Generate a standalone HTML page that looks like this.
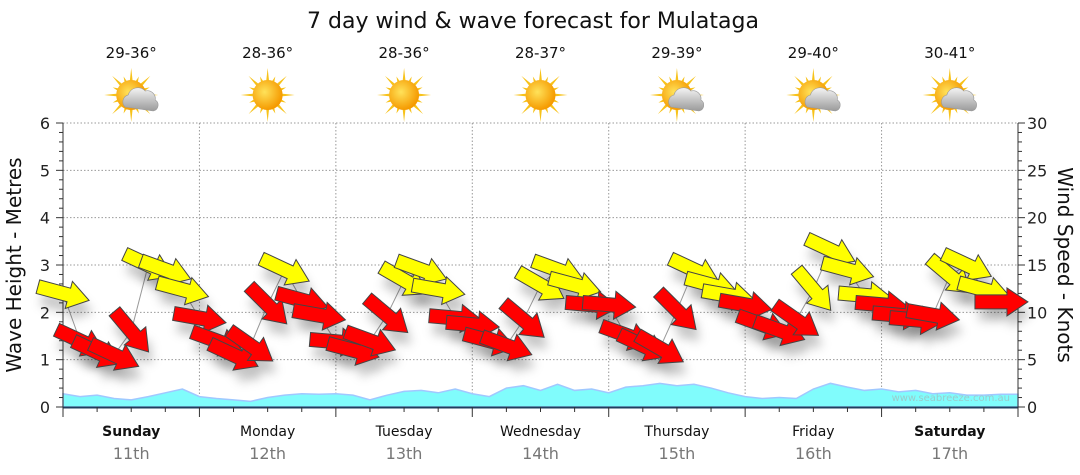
<!DOCTYPE html>
<html><head><meta charset="utf-8"><style>
body{margin:0;background:#fff;}
svg{display:block;font-family:"DejaVu Sans","Liberation Sans",sans-serif;}
</style></head><body>
<svg id="c" width="1080" height="475">
<defs>
<radialGradient id="sun" cx="40%" cy="40%" r="60%"><stop offset="0" stop-color="#ffe25a"/><stop offset="1" stop-color="#f59a00"/></radialGradient>
<linearGradient id="cloud" x1="0" y1="0" x2="0" y2="1"><stop offset="0" stop-color="#f4f4f4"/><stop offset="1" stop-color="#9a9a9a"/></linearGradient>
<filter id="sh" x="-50%" y="-50%" width="200%" height="200%"><feGaussianBlur stdDeviation="5"/></filter>
</defs>
<text x="533" y="28" text-anchor="middle" font-size="22" fill="#111">7 day wind &amp; wave forecast for Mulataga</text>
<g id="grid"></g><g id="waves"></g><g id="axes"></g><g id="top"></g><g id="wind"></g>
<text x="1010" y="401" text-anchor="end" font-size="10" fill="#9cc">www.seabreeze.com.au</text>
<text transform="translate(21,265) rotate(-90)" text-anchor="middle" font-size="20" fill="#111">Wave Height - Metres</text>
<text transform="translate(1058,265) rotate(90)" text-anchor="middle" font-size="20" fill="#111">Wind Speed - Knots</text>
</svg>
<script>
const days=["Sunday","Monday","Tuesday","Wednesday","Thursday","Friday","Saturday"];
const dates=["11th","12th","13th","14th","15th","16th","17th"];
const boldDays=[true,false,false,false,false,false,true];
const temps=["29-36°","28-36°","28-36°","28-37°","29-39°","29-40°","30-41°"];
const cloudy=[true,false,false,false,true,true,true];
const waveTicks=[0,1,2,3,4,5,6];
const windTicks=[0,5,10,15,20,25,30];
const windSpeed=[12,7,5.8,5.5,8,15,14.5,12.4, 9.4,7,5.5,6.5,10.8,14.5,11.3,9.7, 6.9,6,7,9.7,13.4,14.5,12.4,9.4, 8.7,7,6.5,9.2,12.9,14.5,12.9,10.8, 10.8,7.6,6.5,6.2,10.2,14.5,12.9,11.8, 10.8,8.7,8.1,9.2,12.4,16.6,14.5,11.8, 10.8,9.7,9.2,9.7,13.9,15,12.4,11.1];
const windDir=[15,25,25,25,50,25,20,15, 10,20,25,35,45,25,15,10, 5,15,20,40,30,20,10,5, 5,15,20,40,30,20,15,5, 5,20,25,30,45,25,15,10, 10,20,20,35,50,25,15,5, 5,5,5,10,40,25,15,0];
const waveH=[0.28,0.22,0.25,0.18,0.15,0.22,0.3,0.38, 0.22,0.18,0.15,0.12,0.2,0.25,0.28,0.27, 0.28,0.25,0.15,0.25,0.33,0.35,0.3,0.38, 0.28,0.22,0.4,0.45,0.35,0.48,0.35,0.38, 0.3,0.42,0.45,0.5,0.45,0.48,0.4,0.3, 0.22,0.18,0.2,0.18,0.38,0.5,0.42,0.35, 0.38,0.32,0.35,0.28,0.3,0.25,0.25,0.27];

const X0=63,X1=1018,Y0=407,Y1=123,N=56;
const xAt=i=>X0+(X1-X0)*i/N;
const yW=v=>Y0-(Y0-Y1)*v/6;
const yK=v=>Y0-(Y0-Y1)*v/30;
const ns="http://www.w3.org/2000/svg";
function mk(t,a,p){const e=document.createElementNS(ns,t);for(const k in a)e.setAttribute(k,a[k]);p.appendChild(e);return e;}
const grid=document.getElementById('grid'),axes=document.getElementById('axes'),top_=document.getElementById('top'),wv=document.getElementById('waves'),wd=document.getElementById('wind');
waveTicks.forEach(v=>{
 if(v>0){const l=mk('line',{x1:X0,x2:X1,y1:yW(v),y2:yW(v),stroke:'#999','stroke-dasharray':'1.5,2'},grid);
 
 }
 const t=mk('text',{x:50,y:yW(v)+6,'text-anchor':'end','font-size':16,fill:'#222'},axes);t.textContent=v;
 
 
});
windTicks.forEach(v=>{
 const t=mk('text',{x:1027,y:yK(v)+6,'font-size':16,fill:'#222'},axes);t.textContent=v;
 
 
});
for(let k=0;k<=30;k++){const y=yW(k/5);mk('line',{x1:X0-(k%5?4:7),x2:X0,y1:y,y2:y,stroke:'#333'},axes);
 const y2=yK(k);mk('line',{x1:X1,x2:X1+(k%5?4:7),y1:y2,y2:y2,stroke:'#333'},axes);}
mk('line',{x1:X0,x2:X0,y1:Y1,y2:Y0,stroke:'#333'},axes);
mk('line',{x1:X1,x2:X1,y1:Y1,y2:Y0,stroke:'#333'},axes);
mk('line',{x1:X0,x2:X1,y1:Y0+0.5,y2:Y0+0.5,stroke:'#1f3f5f','stroke-width':2},axes);
const dw=(X1-X0)/7;
for(let k=0;k<=28;k++){const x=X0+dw*k/4;mk('line',{x1:x,x2:x,y1:Y0,y2:Y0+(k%4?5:10),stroke:'#333'},axes);}
days.forEach((d,i)=>{
 const cx=X0+dw*(i+0.5);
 if(i>0){const l=mk('line',{x1:X0+dw*i,x2:X0+dw*i,y1:Y1,y2:Y0,stroke:'#999','stroke-dasharray':'1.5,2'},grid);
 
 }
 const t=mk('text',{x:cx,y:436,'text-anchor':'middle','font-size':14,fill:'#111','font-weight':boldDays[i]?'bold':'normal'},axes);t.textContent=d;
 
 
 const t2=mk('text',{x:cx,y:459,'text-anchor':'middle','font-size':16,fill:'#777'},axes);t2.textContent=dates[i];
 
 
 const t3=mk('text',{x:cx,y:58,'text-anchor':'middle','font-size':15,fill:'#111'},top_);t3.textContent=temps[i];
 
 
 const g=mk('g',{transform:`translate(${cx},95)`},top_);
 
 
 for(let r=0;r<16;r++){const a=r*Math.PI/8,L=r%2?20:27;mk('polygon',{points:`${Math.cos(a-0.12)*13},${Math.sin(a-0.12)*13} ${Math.cos(a)*L},${Math.sin(a)*L} ${Math.cos(a+0.12)*13},${Math.sin(a+0.12)*13}`,fill:'#f7c21a'},g);}
 mk('circle',{r:15,fill:'url(#sun)'},g);
 if(cloudy[i]){mk('path',{d:'M-6,12 a7,7 0 0 1 3,-12 a10,10 0 0 1 17,-4 a8,8 0 0 1 10,9 a6,6 0 0 1 -2,11 z',fill:'url(#cloud)',stroke:'#999','stroke-width':0.6},g);}
});
let d=`M${X0},${Y0}`;waveH.forEach((v,i)=>{d+=` L${xAt(i)},${yW(v)}`;});d+=` L${X1},${yW(waveH[N-1])} L${X1},${Y0} Z`;
const wa=mk('path',{d,fill:'#80fcfc',stroke:'#a0c8ff','stroke-width':1.5},wv);


let ld='';windSpeed.forEach((v,i)=>{ld+=(i?' L':'M')+xAt(i)+','+yK(v);});
mk('path',{d:ld,fill:'none',stroke:'#999','stroke-width':1},wd);
const arrow='-26,-7 6,-7 6,-14 27,0 6,14 6,7 -26,7';
windSpeed.forEach((v,i)=>{
 const x=xAt(i),y=yK(v);
 mk('polygon',{points:arrow,transform:`translate(${x+4},${y+12}) rotate(${windDir[i]})`,fill:'rgba(0,0,0,0.22)',filter:'url(#sh)'},wd);
});
windSpeed.forEach((v,i)=>{
 const x=xAt(i),y=yK(v);
 const p=mk('polygon',{points:arrow,transform:`translate(${x},${y}) rotate(${windDir[i]})`,fill:v>=11.5?'#ffff00':'#ff0000',stroke:'#444','stroke-width':1},wd);
 
 
});
</script>
</body></html>
